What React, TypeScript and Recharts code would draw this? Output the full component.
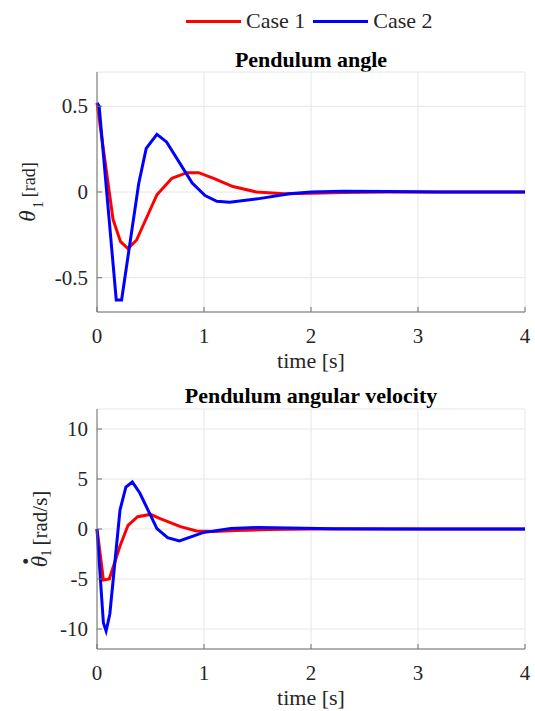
import React from "react"
import { LineChart, Line, XAxis, YAxis, CartesianGrid } from "recharts"

// time vertices and values (solver output is irregular)
const angleTime1 = [0, 0.15, 0.22, 0.29, 0.37, 0.56, 0.7, 0.84, 0.95, 1.09, 1.27, 1.49, 1.75, 2.0, 2.3, 2.7, 3.2, 4.0]
const angleCase1 = [0.52, -0.16, -0.29, -0.33, -0.28, -0.016, 0.08, 0.113, 0.113, 0.08, 0.032, 0.0, -0.01, -0.008, -0.003, 0, 0, 0]

const angleTime2 = [0, 0.02, 0.18, 0.23, 0.39, 0.46, 0.56, 0.65, 0.89, 1.01, 1.12, 1.24, 1.5, 1.8, 2.0, 2.3, 2.7, 3.2, 4.0]
const angleCase2 = [0.52, 0.5, -0.63, -0.63, 0.05, 0.254, 0.336, 0.292, 0.052, -0.021, -0.054, -0.06, -0.04, -0.01, 0, 0.005, 0.003, 0, 0]

const velTime1 = [0, 0.06, 0.115, 0.215, 0.29, 0.38, 0.5, 0.59, 0.78, 0.93, 1.09, 1.3, 1.6, 2.0, 3.0, 4.0]
const velCase1 = [0, -5.1, -5.0, -1.7, 0.37, 1.23, 1.46, 1.03, 0.24, -0.2, -0.25, -0.15, -0.05, 0, 0, 0]

const velTime2 = [0, 0.06, 0.085, 0.12, 0.215, 0.27, 0.33, 0.4, 0.56, 0.66, 0.77, 0.99, 1.25, 1.5, 1.8, 2.2, 3.0, 4.0]
const velCase2 = [0, -9.4, -10.2, -8.5, 1.9, 4.2, 4.7, 3.6, 0.04, -0.86, -1.19, -0.36, 0.04, 0.15, 0.1, 0.02, 0, 0]

const timeTicks = [0, 1, 2, 3, 4]
const angleTicks = [-0.5, 0, 0.5]
const velTicks = [-10, -5, 0, 5, 10]

const SERIES = [
  { name: "Case 1", color: "#ff0000" },
  { name: "Case 2", color: "#0000ff" },
]

const FONT = "'Liberation Serif', 'Times New Roman', serif"
const AXIS = "#6e6e6e"
const TEXT = "#262626"

const toRows = (t: number[], v: number[]) => t.map((x, i) => ({ t: x, v: v[i] }))

function XTick({ x, y, payload }: any) {
  return (
    <text x={x} y={y} dy="0.71em" textAnchor="middle" fill={TEXT} fontSize={21} style={{ fontFamily: FONT }}>
      {String(payload.value)}
    </text>
  )
}

function YTick({ x, y, payload }: any) {
  return (
    <text x={x} y={y} dy="0.34em" textAnchor="end" fill={TEXT} fontSize={21} style={{ fontFamily: FONT }}>
      {String(payload.value)}
    </text>
  )
}

function YLabel({ viewBox, dx, sub, unit, dot }: any) {
  const cx = viewBox.x + dx
  const cy = viewBox.y + viewBox.height / 2
  return (
    <text
      x={cx}
      y={cy}
      textAnchor="middle"
      transform={`rotate(-90 ${cx} ${cy})`}
      fill={TEXT}
      style={{ fontFamily: FONT }}
    >
      <tspan fontStyle="italic" fontSize={23}>{"\u03b8"}</tspan>
      {dot && <tspan fontSize={30} fontWeight="bold" dx={-9} dy={-19}>.</tspan>}
      <tspan fontSize={14} dy={dot ? 19 + sub : sub} dx={dot ? 1 : 2}>1</tspan>
      <tspan fontSize={dot ? 21 : 18} dy={-sub} dx={4}>{unit}</tspan>
    </text>
  )
}

function XLabel({ viewBox }: any) {
  return (
    <text
      x={viewBox.x + viewBox.width / 2}
      y={viewBox.y + 56}
      textAnchor="middle"
      fill={TEXT}
      style={{ fontFamily: FONT }}
      fontSize={22}
    >
      time [s]
    </text>
  )
}

function Panel({ lines, domain, ticks, height, top, labelDx, sub, unit, dot }: any) {
  return (
    <LineChart
      width={535}
      height={height}
      margin={{ top, right: 10, bottom: 0, left: 37 }}
      style={{ fontFamily: FONT }}
    >
      <CartesianGrid stroke="#e6e6e6" strokeWidth={1} />
      <XAxis
        dataKey="t"
        type="number"
        domain={[0, 4]}
        ticks={timeTicks}
        height={height - top - 240}
        stroke={AXIS}
        tickSize={-5}
        tickMargin={21}
        tick={<XTick />}
        label={{ content: (p: any) => <XLabel {...p} /> }}
      />
      <XAxis
        xAxisId="top"
        orientation="top"
        dataKey="t"
        type="number"
        domain={[0, 4]}
        ticks={timeTicks}
        height={0}
        stroke={AXIS}
        tickSize={-5}
        tickFormatter={() => ""}
      />
      <YAxis
        type="number"
        domain={domain}
        ticks={ticks}
        width={60}
        stroke={AXIS}
        tickSize={-5}
        tickMargin={14}
        tick={<YTick />}
        label={{ content: (p: any) => <YLabel {...p} dx={labelDx} sub={sub} unit={unit} dot={dot} /> }}
      />
      <YAxis
        yAxisId="right"
        orientation="right"
        type="number"
        domain={domain}
        ticks={ticks}
        width={0}
        stroke={AXIS}
        tickSize={-5}
        tickFormatter={() => ""}
      />
      {lines.map((rows: any[], i: number) => (
        <Line
          key={SERIES[i].name}
          data={rows}
          dataKey="v"
          name={SERIES[i].name}
          type="linear"
          stroke={SERIES[i].color}
          strokeWidth={3}
          dot={false}
          isAnimationActive={false}
        />
      ))}
    </LineChart>
  )
}

const titleStyle: React.CSSProperties = {
  position: "absolute",
  left: 97,
  width: 428,
  textAlign: "center",
  fontFamily: FONT,
  fontWeight: "bold",
  fontSize: 22,
  lineHeight: "22px",
  color: "#000",
}

export default function App() {
  return (
    <div style={{ position: "absolute", left: 0, top: 0, width: 535, height: 711, background: "#fff", fontFamily: FONT }}>
      {/* legend */}
      <div style={{ position: "absolute", left: 186, top: 8, display: "flex", alignItems: "center", fontSize: 22, color: TEXT }}>
        {SERIES.map((s) => (
          <div key={s.name} style={{ display: "flex", alignItems: "center", marginRight: 8 }}>
            <span style={{ width: 55, height: 3, background: s.color, marginRight: 5 }} />
            <span>{s.name}</span>
          </div>
        ))}
      </div>

      <div style={{ ...titleStyle, top: 49 }}>Pendulum angle</div>
      <div style={{ ...titleStyle, top: 385 }}>Pendulum angular velocity</div>

      <div style={{ position: "absolute", left: 0, top: 0 }}>
        <Panel
          lines={[toRows(angleTime1, angleCase1), toRows(angleTime2, angleCase2)]}
          domain={[-0.7, 0.7]}
          ticks={angleTicks}
          height={376}
          top={72}
          labelDx={-2}
          sub={8}
          unit="[rad]"
          dot={false}
        />
      </div>
      <div style={{ position: "absolute", left: 0, top: 376 }}>
        <Panel
          lines={[toRows(velTime1, velCase1), toRows(velTime2, velCase2)]}
          domain={[-12, 12]}
          ticks={velTicks}
          height={335}
          top={33}
          labelDx={10}
          sub={4}
          unit="[rad/s]"
          dot={true}
        />
      </div>
    </div>
  )
}
